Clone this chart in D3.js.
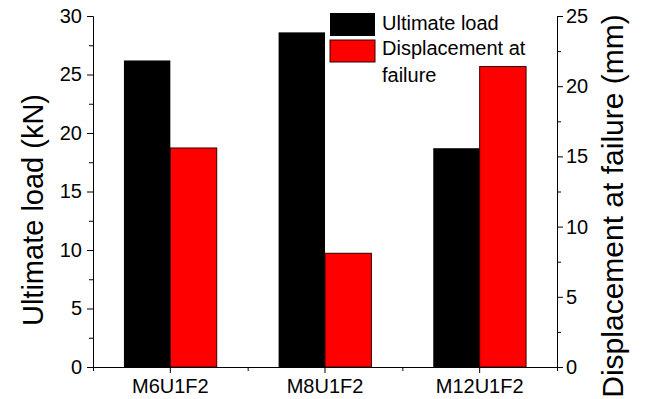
<!DOCTYPE html>
<html>
<head>
  <style>
    html, body { margin: 0; padding: 0; background: #fff; }
    text { font-family: Arial, "Liberation Sans", sans-serif; fill: #000; }
    .axis path, .axis line { stroke: #000; stroke-width: 1px; }
    .axis text { font-size: 20px; }
    .title { font-size: 29px; }
    .legend text { font-size: 20px; }
  </style>
</head>
<body>
  <svg id="chart" width="650" height="399"></svg>
  <script src="https://d3js.org/d3.v7.min.js"></script>
  <script>
    // data
    const categories = ["M6U1F2", "M8U1F2", "M12U1F2"];
    const ultimateLoad = [26.2, 28.6, 18.7];   // kN, left axis
    const displacement = [15.6, 8.1, 21.4];    // mm, right axis
    const leftTicks = [0, 5, 10, 15, 20, 25, 30];
    const rightTicks = [0, 5, 10, 15, 20, 25];
    const seriesNames = ["Ultimate load", "Displacement at failure"];

    const plotL = 93, plotR = 557, plotT = 16, plotB = 367;
    const svg = d3.select("#chart");

    const x = d3.scaleBand().domain(categories).range([plotL, plotR]).padding(0);
    const groupW = x.bandwidth() * 0.6;
    const x1 = d3.scaleBand().domain([0, 1]).range([0, groupW]).padding(0);

    const yL = d3.scaleLinear().domain([0, 30]).range([plotB, plotT]);
    const yR = d3.scaleLinear().domain([0, 25]).range([plotB, plotT]);

    const gx = c => x(c) + (x.bandwidth() - groupW) / 2;

    // black bars
    svg.selectAll(".load")
      .data(categories)
      .enter()
      .append("rect")
      .attr("class", "load")
      .attr("x", c => gx(c) + x1(0))
      .attr("y", (c, i) => yL(ultimateLoad[i]))
      .attr("width", x1.bandwidth())
      .attr("height", (c, i) => plotB - yL(ultimateLoad[i]))
      .attr("fill", "#000");

    // red bars
    svg.selectAll(".disp")
      .data(categories)
      .enter()
      .append("rect")
      .attr("class", "disp")
      .attr("x", c => gx(c) + x1(1))
      .attr("y", (c, i) => yR(displacement[i]))
      .attr("width", x1.bandwidth())
      .attr("height", (c, i) => plotB - yR(displacement[i]))
      .attr("fill", "#ff0000")
      .attr("stroke", "#300")
      .attr("stroke-width", 1);

    // left axis + minor ticks
    svg.append("g").attr("class", "axis")
      .attr("transform", `translate(${plotL},0)`)
      .call(d3.axisLeft(yL).tickValues(leftTicks).tickSizeOuter(0).tickSize(6).tickPadding(5));
    svg.append("g").attr("class", "axis")
      .attr("transform", `translate(${plotL},0)`)
      .call(d3.axisLeft(yL).tickValues(leftTicks.slice(1).map(v => v - 2.5)).tickSize(4).tickSizeOuter(0).tickFormat(""))
      .select(".domain").remove();

    // right axis + minor ticks
    svg.append("g").attr("class", "axis")
      .attr("transform", `translate(${plotR},0)`)
      .call(d3.axisRight(yR).tickValues(rightTicks).tickSizeOuter(0).tickSize(6).tickPadding(3));
    svg.append("g").attr("class", "axis")
      .attr("transform", `translate(${plotR},0)`)
      .call(d3.axisRight(yR).tickValues(rightTicks.slice(1).map(v => v - 2.5)).tickSize(4).tickSizeOuter(0).tickFormat(""))
      .select(".domain").remove();

    // bottom axis: major ticks at centres, minor at band edges
    svg.append("g").attr("class", "axis")
      .attr("transform", `translate(0,${plotB})`)
      .call(d3.axisBottom(x).tickSize(6).tickSizeOuter(0).tickPadding(6));
    const edges = d3.scaleLinear().domain([0, 3]).range([plotL, plotR]);
    svg.append("g").attr("class", "axis")
      .attr("transform", `translate(0,${plotB})`)
      .call(d3.axisBottom(edges).tickValues([0, 1, 2, 3]).tickSize(4).tickSizeOuter(0).tickFormat(""))
      .select(".domain").remove();

    // axis titles
    svg.append("text").attr("class", "title")
      .attr("transform", "translate(43,210) rotate(-90)")
      .attr("text-anchor", "middle")
      .text("Ultimate load (kN)");
    svg.append("text").attr("class", "title")
      .style("font-size", "30px")
      .attr("transform", "translate(623,206) rotate(-90)")
      .attr("text-anchor", "middle")
      .text("Displacement at failure (mm)");

    // legend
    const legend = svg.append("g").attr("class", "legend");
    legend.append("rect").attr("x", 330).attr("y", 13).attr("width", 45).attr("height", 23)
      .attr("fill", "#000");
    legend.append("rect").attr("x", 330).attr("y", 40).attr("width", 45).attr("height", 22)
      .attr("fill", "#ff0000").attr("stroke", "#300");
    legend.append("text").attr("x", 382).attr("y", 30).text(seriesNames[0]);
    legend.append("text").attr("x", 382).attr("y", 55).text("Displacement at");
    legend.append("text").attr("x", 382).attr("y", 82).text("failure");
  </script>
</body>
</html>
